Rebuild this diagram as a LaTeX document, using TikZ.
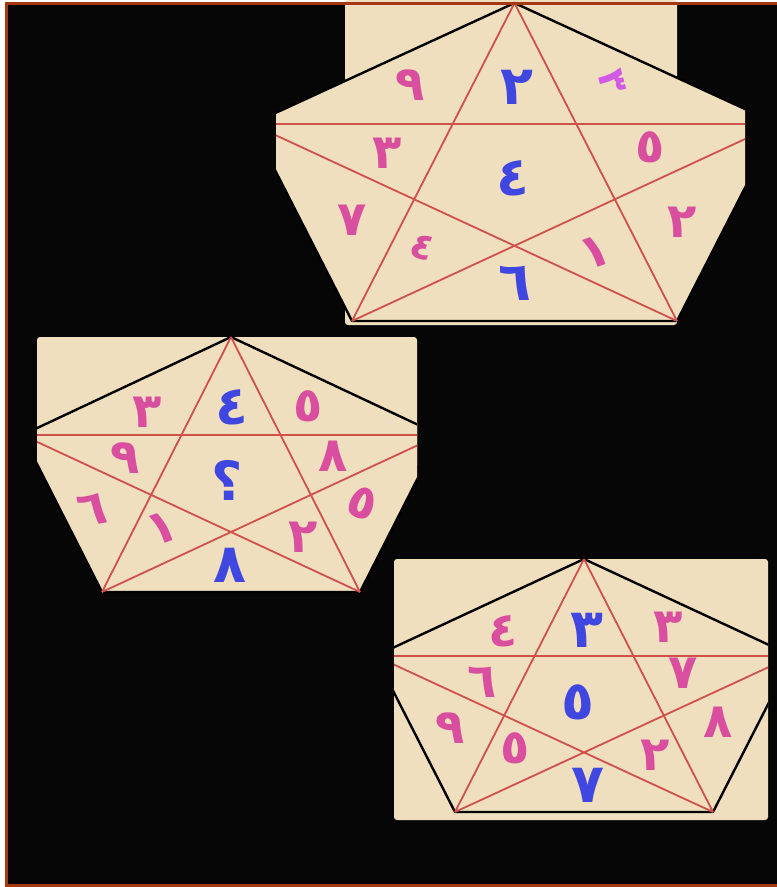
\documentclass[tikz,border=0pt]{standalone}
\usepackage{fontspec}
\usepackage{tikz}
\usepackage{xcolor}
\newfontfamily\arabicfont[Script=Arabic]{DejaVu Sans}
\TeXXeTstate=1
\definecolor{puzzlebeige}{HTML}{F0DFBE}
\definecolor{starred}{HTML}{D0504C}
\definecolor{digitpink}{HTML}{D94E9E}
\definecolor{digitblue}{HTML}{3F47E0}
\definecolor{digitviolet}{HTML}{D35AE4}
\definecolor{framebrown}{HTML}{A5380F}
\definecolor{nightblack}{HTML}{060606}

\begin{document}
\begin{tikzpicture}[
    x=1pt, y=-1pt,
    card/.style={fill=puzzlebeige, rounded corners=3pt},
    rim/.style={draw=black, line width=2.4pt, line join=round},
    starline/.style={draw=starred, line width=1.8pt},
    digit/.style={font=\arabicfont\bfseries\fontsize{48}{48}\selectfont, text=digitpink, inner sep=0pt},
    bigdigit/.style={digit, text=digitblue, font=\arabicfont\bfseries\fontsize{54}{54}\selectfont},
    smalldigit/.style={digit, font=\arabicfont\bfseries\fontsize{38}{38}\selectfont}
  ]
    \useasboundingbox (0,0) rectangle (777,887);
    \fill[white] (0,0) rectangle (777,887);
    \fill[nightblack] (6,3) rectangle (777,885);

    \begin{scope}
      \clip (276,0) rectangle (745,887);
      \coordinate (a1) at (514.5,3);
      \coordinate (a2) at (251.5,124);
      \coordinate (a3) at (352,321);
      \coordinate (a4) at (677,321);
      \coordinate (a5) at (777.5,124);
      \fill[card] (345,0) rectangle (677,325);
      \fill[puzzlebeige] (a1) -- (a2) -- (a3) -- (a4) -- (a5) -- cycle;
      \draw[rim] (a1) -- (a2) -- (a3) -- (a4) -- (a5) -- cycle;
      \draw[starline] (a1) -- (a3) (a1) -- (a4) (a2) -- (a5) (a2) -- (a4) (a5) -- (a3);
    \end{scope}
    \node[bigdigit] (a-top) at (517,87) {٢};
    \node[digit] (a-ul) at (410,85) {٩};
    \node[smalldigit, text=digitviolet, rotate=-75] (a-ur) at (612,82) {٣};
    \node[digit] (a-left) at (387,153) {٣};
    \node[digit] (a-right) at (650,147) {٥};
    \node[bigdigit] (a-mid) at (513,178) {٤};
    \node[digit] (a-ll) at (352,220) {٧};
    \node[digit] (a-lr) at (682,222) {٢};
    \node[smalldigit, rotate=-20] (a-arml) at (423,247) {٤};
    \node[digit, rotate=20] (a-armr) at (595,252) {١};
    \node[bigdigit] (a-bot) at (515,283) {٦};

    \begin{scope}
      \clip (37,0) rectangle (417,887);
      \coordinate (b1) at (231,337);
      \coordinate (b2) at (22.3,435);
      \coordinate (b3) at (102,592);
      \coordinate (b4) at (360,592);
      \coordinate (b5) at (439.7,435);
      \fill[card] (37,337) rectangle (417,468);
      \fill[puzzlebeige] (b1) -- (b2) -- (b3) -- (b4) -- (b5) -- cycle;
      \draw[rim] (b1) -- (b2) -- (b3) -- (b4) -- (b5) -- cycle;
      \draw[starline] (b1) -- (b3) (b1) -- (b4) (b2) -- (b5) (b2) -- (b4) (b5) -- (b3);
    \end{scope}
    \node[bigdigit] (b-top) at (232,407) {٤};
    \node[digit] (b-ul) at (147,412) {٣};
    \node[digit] (b-ur) at (308,406) {٥};
    \node[digit] (b-left) at (125,458) {٩};
    \node[digit] (b-right) at (333,456) {٨};
    \node[bigdigit] (b-mid) at (227,480) {\beginR ؟\endR};
    \node[digit, rotate=10] (b-ll) at (92,510) {٦};
    \node[digit, rotate=-20] (b-lr) at (362,503) {٥};
    \node[digit, rotate=20] (b-arml) at (162,528) {١};
    \node[digit] (b-armr) at (303,537) {٢};
    \node[bigdigit] (b-bot) at (230,565) {٨};

    \begin{scope}
      \clip (394,0) rectangle (768,887);
      \coordinate (c1) at (584,559);
      \coordinate (c2) at (375.3,656);
      \coordinate (c3) at (455,812);
      \coordinate (c4) at (713,812);
      \coordinate (c5) at (792.7,656);
      \fill[card] (394,559) rectangle (768,820);
      \draw[rim] (c1) -- (c2) -- (c3) -- (c4) -- (c5) -- cycle;
      \draw[starline] (c1) -- (c3) (c1) -- (c4) (c2) -- (c5) (c2) -- (c4) (c5) -- (c3);
    \end{scope}
    \node[bigdigit] (c-top) at (587,630) {٣};
    \node[digit] (c-ul) at (503,631) {٤};
    \node[digit] (c-ur) at (668,627) {٣};
    \node[digit] (c-left) at (482,682) {٦};
    \node[digit] (c-right) at (683,673) {٧};
    \node[bigdigit] (c-mid) at (578,702) {٥};
    \node[digit] (c-ll) at (450,728) {٩};
    \node[digit] (c-lr) at (718,722) {٨};
    \node[digit] (c-arml) at (515,748) {٥};
    \node[digit] (c-armr) at (655,755) {٢};
    \node[bigdigit] (c-bot) at (588,785) {٧};

    \draw[framebrown, line width=3pt] (777,3) -- (6,3) -- (6,885) -- (777,885);
  \end{tikzpicture}
\end{document}
